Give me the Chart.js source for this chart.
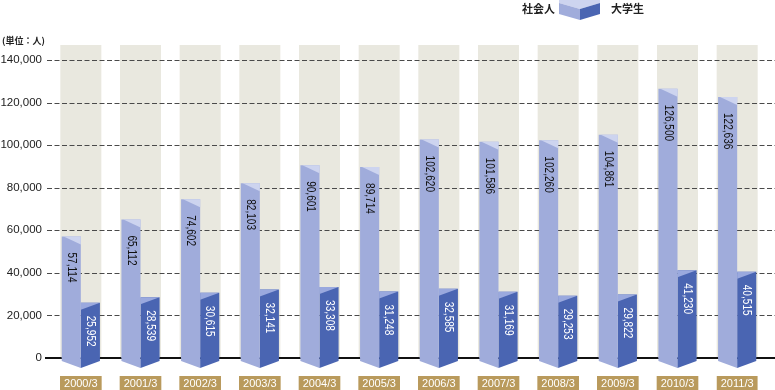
<!DOCTYPE html>
<html><head><meta charset="utf-8">
<script src="https://cdn.jsdelivr.net/npm/chart.js@4/dist/chart.umd.min.js"></script>
<style>html,body{margin:0;padding:0;background:#fff;}canvas{display:block;}</style>
</head><body>
<canvas id="c" width="775" height="390"></canvas>
<script>
const categories = ['2000/3','2001/3','2002/3','2003/3','2004/3','2005/3','2006/3','2007/3','2008/3','2009/3','2010/3','2011/3'];
const shakaijin = [57114, 65112, 74602, 82103, 90601, 89714, 102620, 101586, 102260, 104861, 126500, 122636];
const daigakusei = [25952, 28539, 30615, 32141, 33308, 31248, 32585, 31169, 29253, 29822, 41230, 40515];
const seriesNames = ['社会人', '大学生'];
const yUnit = '(単位：人)';
const yMin = 0, yMax = 140000, yStep = 20000;

const LIGHT = '#a0acdb', LIGHT_CAP = '#cdd4ef', DARK = '#4a65b2', DARK_CAP = '#9aa9de';
const BAND = '#e9e8df', BOX = '#b99a5c';
const fmt = v => Number(v).toLocaleString('en-US');

const decor = {
  id: 'decor',
  beforeDatasetsDraw(chart) {
    const {ctx, chartArea, scales: {x, y}} = chart;
    ctx.save();
    ctx.fillStyle = BAND;
    categories.forEach((c, i) => {
      const cx = x.getPixelForValue(i);
      ctx.fillRect(cx - 20.5, chartArea.top - 15, 41, y.getPixelForValue(0) - (chartArea.top - 15));
    });
    y.ticks.forEach(t => {
      if (t.value === 0) return;
      const py = Math.round(y.getPixelForValue(t.value)) + 0.5;
      ctx.setLineDash([5, 2.5]);
      ctx.strokeStyle = '#4a4a4a';
      ctx.lineWidth = 1;
      ctx.beginPath(); ctx.moveTo(47, py); ctx.lineTo(775, py); ctx.stroke();
    });
    ctx.setLineDash([]);
    const zy = Math.round(y.getPixelForValue(0));
    ctx.strokeStyle = '#111';
    ctx.lineWidth = 2;
    ctx.beginPath(); ctx.moveTo(45, zy); ctx.lineTo(775, zy); ctx.stroke();
    ctx.restore();
  },
  afterDatasetsDraw(chart) {
    const {ctx} = chart;
    const m0 = chart.getDatasetMeta(0), m1 = chart.getDatasetMeta(1);
    ctx.save();
    categories.forEach((c, i) => {
      const L = m0.data[i], D = m1.data[i];
      const ll = L.x - L.width / 2, lr = L.x + L.width / 2, lt = L.y, base = L.base;
      const dl = D.x - D.width / 2, dr = D.x + D.width / 2, dt = D.y;
      // bottom wedges
      ctx.fillStyle = LIGHT;
      ctx.beginPath(); ctx.moveTo(ll, base - 1); ctx.lineTo(lr, base - 1); ctx.lineTo(lr, base + 10); ctx.lineTo(ll, base + 3); ctx.closePath(); ctx.fill();
      ctx.fillStyle = DARK;
      ctx.beginPath(); ctx.moveTo(dl, base - 1); ctx.lineTo(dr, base - 1); ctx.lineTo(dr, base + 3); ctx.lineTo(dl, base + 10); ctx.closePath(); ctx.fill();
      // light cap
      ctx.fillStyle = LIGHT_CAP;
      ctx.beginPath(); ctx.moveTo(ll + 2, lt); ctx.lineTo(lr, lt); ctx.lineTo(lr, lt + 8); ctx.closePath(); ctx.fill();
      // dark cap
      ctx.fillStyle = DARK_CAP;
      ctx.beginPath(); ctx.moveTo(dl, dt); ctx.lineTo(dr, dt); ctx.lineTo(dl, dt + 7); ctx.closePath(); ctx.fill();
      // value labels (rotated)
      ctx.font = '12px "Liberation Sans", Arial, sans-serif';
      ctx.textAlign = 'left';
      ctx.textBaseline = 'middle';
      ctx.save();
      ctx.translate(L.x, lt + 16);
      ctx.rotate(Math.PI / 2);
      ctx.scale(0.84, 1);
      ctx.fillStyle = '#111';
      ctx.fillText(fmt(shakaijin[i]), 0, 0);
      ctx.restore();
      ctx.save();
      ctx.translate(D.x, dt + 13);
      ctx.rotate(Math.PI / 2);
      ctx.scale(0.84, 1);
      ctx.fillStyle = '#ffffff';
      ctx.fillText(fmt(daigakusei[i]), 0, 0);
      ctx.restore();
    });
    ctx.restore();
  },
  afterDraw(chart) {
    const {ctx} = chart;
    ctx.save();
    ctx.fillStyle = '#222';
    ctx.font = 'bold 9px "Noto Sans CJK JP", sans-serif';
    ctx.textAlign = 'left';
    ctx.textBaseline = 'middle';
    ctx.fillText(yUnit, 2, 41);
    ctx.font = 'bold 11px "Noto Sans CJK JP", sans-serif';
    ctx.textAlign = 'right';
    ctx.fillText(seriesNames[0], 555, 9);
    ctx.textAlign = 'left';
    ctx.fillText(seriesNames[1], 611, 9);
    ctx.fillStyle = LIGHT_CAP;
    ctx.beginPath(); ctx.moveTo(559, 0); ctx.lineTo(600, 0); ctx.lineTo(600, 3); ctx.lineTo(580, 9); ctx.lineTo(559, 3); ctx.closePath(); ctx.fill();
    ctx.fillStyle = LIGHT;
    ctx.beginPath(); ctx.moveTo(559, 3); ctx.lineTo(580, 9); ctx.lineTo(580, 20); ctx.lineTo(559, 14); ctx.closePath(); ctx.fill();
    ctx.fillStyle = DARK;
    ctx.beginPath(); ctx.moveTo(580, 9); ctx.lineTo(600, 3); ctx.lineTo(600, 14); ctx.lineTo(580, 20); ctx.closePath(); ctx.fill();
    ctx.restore();
  }
};

new Chart(document.getElementById('c'), {
  type: 'bar',
  data: {
    labels: categories,
    datasets: [
      {label: seriesNames[0], data: shakaijin, backgroundColor: LIGHT, categoryPercentage: 0.64, barPercentage: 1.0},
      {label: seriesNames[1], data: daigakusei, backgroundColor: DARK, categoryPercentage: 0.64, barPercentage: 1.0}
    ]
  },
  options: {
    responsive: false,
    animation: false,
    devicePixelRatio: 1,
    layout: {padding: {top: 60, right: 8, left: 0, bottom: 0}},
    plugins: {legend: {display: false}, tooltip: {enabled: false}},
    scales: {
      x: {
        grid: {display: false, drawTicks: false},
        border: {display: false},
        afterFit(s) { s.height = 32; },
        ticks: {
          color: '#ffffff',
          font: {size: 11, family: '"Liberation Sans", Arial, sans-serif', lineHeight: 1.1},
          padding: 20,
          maxRotation: 0,
          showLabelBackdrop: true,
          backdropColor: BOX,
          backdropPadding: {top: 2, bottom: 1, left: 4, right: 4}
        }
      },
      y: {
        min: yMin, max: yMax,
        grid: {display: false, drawTicks: false},
        border: {display: false},
        afterFit(s) { s.width = 51; },
        ticks: {
          stepSize: yStep,
          callback: v => fmt(v),
          padding: 9,
          color: '#222',
          font: {size: 11.5, family: '"Liberation Sans", Arial, sans-serif'}
        }
      }
    }
  },
  plugins: [decor]
});
</script>
</body></html>
